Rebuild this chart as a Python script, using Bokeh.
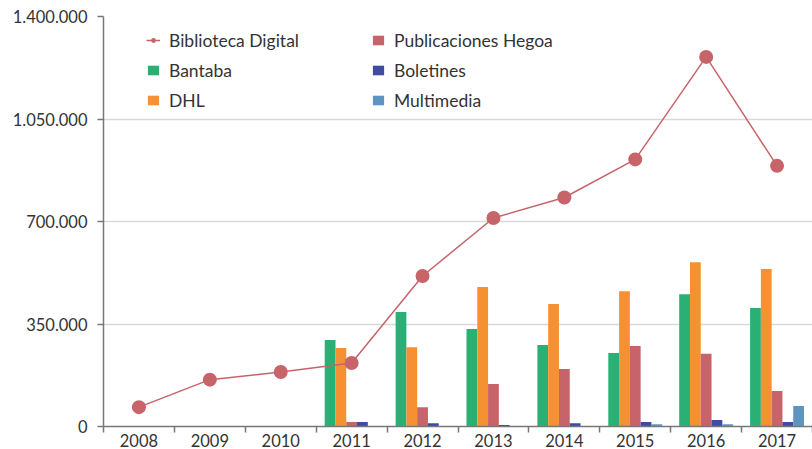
from bokeh.plotting import figure
from bokeh.models import ColumnDataSource, FixedTicker, Legend, LegendItem, Range1d
from bokeh.transform import dodge
from bokeh.embed import file_html
from bokeh.resources import INLINE

years = [2008, 2009, 2010, 2011, 2012, 2013, 2014, 2015, 2016, 2017]
biblioteca = [66000, 160000, 186000, 217000, 514000, 712000, 782000, 912000, 1262000, 890000]
bantaba = [0, 0, 0, 295000, 391000, 333000, 278000, 251000, 452000, 405000]
dhl = [0, 0, 0, 268000, 271000, 476000, 418000, 462000, 561000, 538000]
publicaciones = [0, 0, 0, 15000, 66000, 145000, 196000, 275000, 248000, 121000]
boletines = [0, 0, 0, 15000, 11000, 5000, 11000, 15000, 22000, 15000]
multimedia = [0, 0, 0, 0, 2000, 2000, 2000, 8000, 8000, 70000]

y_ticks = [0, 350000, 700000, 1050000, 1400000]
y_tick_labels = ["0", "350.000", "700.000", "1.050.000", "1.400.000"]

FONT = "Lato"
TXT = "#333333"

src = ColumnDataSource(dict(year=years, bib=biblioteca, ban=bantaba, dhl=dhl,
                            pub=publicaciones, bol=boletines, mul=multimedia))

p = figure(width=812, height=449, output_backend="svg", toolbar_location=None,
           x_range=Range1d(2007.5, 2017.5), y_range=Range1d(0, 1400000),
           min_border_left=103, min_border_right=0, min_border_top=16, min_border_bottom=0)
p.outline_line_color = None

bw = 0.152
series = [("ban", "Bantaba", "#2ab074"), ("dhl", "DHL", "#f59132"),
          ("pub", "Publicaciones Hegoa", "#c6646a"), ("bol", "Boletines", "#404ca0"),
          ("mul", "Multimedia", "#6094c0")]
bars = {}
for i, (col, name, color) in enumerate(series):
    bars[name] = p.vbar(x=dodge("year", (i - 2) * bw, range=p.x_range), top=col, width=bw,
                        source=src, fill_color=color, line_color=None)

ln = p.line("year", "bib", source=src, line_color="#c6646a", line_width=1.5)
sc = p.scatter("year", "bib", source=src, size=14, fill_color="#c6646a", line_color=None)

# axes
p.xaxis.ticker = FixedTicker(ticks=years, minor_ticks=[y + 0.5 for y in [years[0] - 1] + years])
p.xaxis.major_tick_out = 0
p.xaxis.major_tick_in = 0
p.xaxis.minor_tick_out = 6
p.xaxis.minor_tick_in = 0
p.xaxis.minor_tick_line_color = "#777777"
p.xaxis.minor_tick_line_width = 1.5
p.xaxis.axis_line_color = "#777777"
p.xaxis.axis_line_width = 1.5
p.xaxis.major_label_text_font = FONT
p.xaxis.major_label_text_font_size = "16.5px"
p.xaxis.major_label_text_color = TXT
p.xaxis.major_label_standoff = 1
p.xaxis.major_label_overrides = {y: str(y) for y in years}

p.yaxis.ticker = FixedTicker(ticks=y_ticks)
p.yaxis.major_label_overrides = dict(zip(y_ticks, y_tick_labels))
p.yaxis.major_tick_out = 6
p.yaxis.major_tick_in = 0
p.yaxis.minor_tick_line_color = None
p.yaxis.axis_line_color = "#777777"
p.yaxis.axis_line_width = 1.5
p.yaxis.major_tick_line_color = "#777777"
p.yaxis.major_tick_line_width = 1.5
p.yaxis.major_label_text_font = FONT
p.yaxis.major_label_text_font_size = "16.5px"
p.yaxis.major_label_text_color = TXT
p.yaxis.major_label_standoff = 10

p.xgrid.grid_line_color = None
p.ygrid.grid_line_color = "#d9d9d9"
p.ygrid.grid_line_width = 1.5
p.ygrid.ticker = FixedTicker(ticks=y_ticks)

def make_legend(items, x, y):
    lg = Legend(items=items, location=(x, y), orientation="vertical",
                background_fill_alpha=0, border_line_color=None,
                padding=0, margin=0, spacing=8, label_height=22,
                glyph_width=14, glyph_height=12, label_standoff=9,
                label_text_font=FONT, label_text_font_size="17.5px",
                label_text_color=TXT)
    p.add_layout(lg, "center")
    return lg

make_legend([LegendItem(label="Biblioteca Digital", renderers=[ln, sc]),
             LegendItem(label="Bantaba", renderers=[bars["Bantaba"]]),
             LegendItem(label="DHL", renderers=[bars["DHL"]])], 43, 315)
make_legend([LegendItem(label="Publicaciones Hegoa", renderers=[bars["Publicaciones Hegoa"]]),
             LegendItem(label="Boletines", renderers=[bars["Boletines"]]),
             LegendItem(label="Multimedia", renderers=[bars["Multimedia"]])], 268, 315)

open("out.html", "w").write(file_html(p, INLINE))
